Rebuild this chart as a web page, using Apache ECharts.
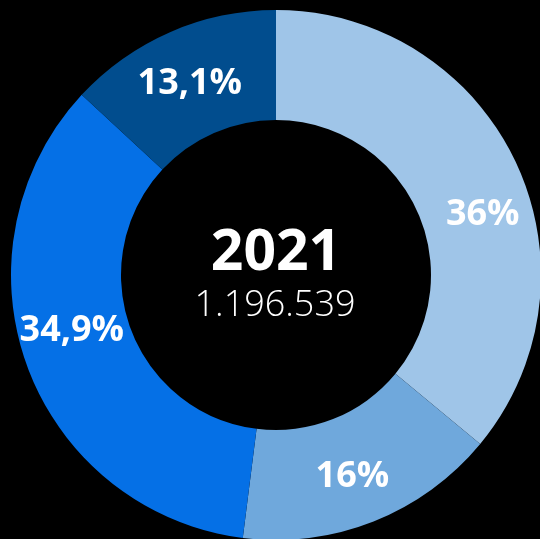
<!DOCTYPE html>
<html>
<head>
<meta charset="utf-8">
<script src="https://cdn.jsdelivr.net/npm/echarts@6/dist/echarts.min.js"></script>
<style>
html,body{margin:0;padding:0;background:#000;}
#chart{width:540px;height:539px;}
</style>
</head>
<body>
<div id="chart"></div>
<script>
var categories = ['A', 'B', 'C', 'D'];
var values = [36, 16, 34.9, 13.1];
var colors = ['#9fc5e8', '#6fa8dc', '#0570e6', '#014d8e'];
var labelOffsets = [[14, 30], [-2, 4], [-4, -17], [-1, 4]];
var yearText = '2021';
var totalText = '1.196.539';

var chart = echarts.init(document.getElementById('chart'));
var data = categories.map(function (c, i) {
  return {
    name: c,
    value: values[i],
    itemStyle: { color: colors[i] },
    label: { offset: labelOffsets[i] }
  };
});
chart.setOption({
  backgroundColor: '#000',
  animation: false,
  series: [{
    type: 'pie',
    center: [276, 275],
    radius: [155, 265],
    startAngle: 90,
    clockwise: true,
    avoidLabelOverlap: false,
    silent: true,
    label: {
      show: true,
      position: 'inside',
      color: '#fff',
      fontFamily: 'Open Sans',
      fontWeight: 'bold',
      fontSize: 36,
      formatter: function (p) { return String(p.value).replace('.', ',') + '%'; }
    },
    labelLine: { show: false },
    itemStyle: { borderWidth: 0 },
    data: data
  }],
  graphic: [
    {
      type: 'text',
      x: 276, y: 254,
      style: {
        text: yearText,
        fill: '#fff',
        font: 'bold 57px "Open Sans"',
        textAlign: 'center',
        textVerticalAlign: 'middle'
      }
    },
    {
      type: 'text',
      x: 275, y: 306,
      style: {
        text: totalText,
        fill: '#fff',
        font: '300 36px "Open Sans"',
        textAlign: 'center',
        textVerticalAlign: 'middle'
      }
    }
  ]
});
</script>
</body>
</html>
